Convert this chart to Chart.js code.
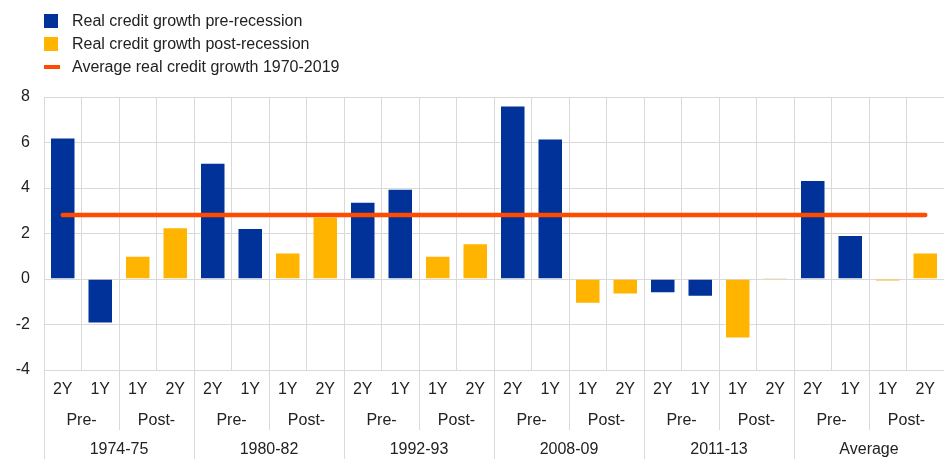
<!DOCTYPE html>
<html>
<head>
<meta charset="utf-8">
<script src="https://cdn.jsdelivr.net/npm/chart.js@4/dist/chart.umd.min.js"></script>
<style>
  body { margin: 0; background: #fff; }
  #wrap { position: relative; width: 944px; height: 469px; }
  #legend { position: absolute; left: 44px; top: 9px; font: 16px 'Liberation Sans', Arial, sans-serif; color: #222; }
  .item { height: 23px; display: flex; align-items: center; }
  .box { width: 14px; height: 14px; margin-right: 14px; }
  .bar { width: 16px; height: 4px; margin-right: 12px; }
</style>
</head>
<body>
<div id="wrap">
  <div id="legend"></div>
  <canvas id="chart" width="944" height="469"></canvas>
</div>
<script>
// chart data
const seriesNames = ['Real credit growth pre-recession', 'Real credit growth post-recession', 'Average real credit growth 1970-2019'];
const horizons = ['2Y', '1Y', '1Y', '2Y', '2Y', '1Y', '1Y', '2Y', '2Y', '1Y', '1Y', '2Y',
                  '2Y', '1Y', '1Y', '2Y', '2Y', '1Y', '1Y', '2Y', '2Y', '1Y', '1Y', '2Y'];
const phases = ['Pre-', 'Post-', 'Pre-', 'Post-', 'Pre-', 'Post-', 'Pre-', 'Post-', 'Pre-', 'Post-', 'Pre-', 'Post-'];
const periods = ['1974-75', '1980-82', '1992-93', '2008-09', '2011-13', 'Average'];
// two values per period: 2Y then 1Y before the recession
const preValues = [6.22, -1.96, 5.11, 2.24, 3.40, 3.97, 7.63, 6.18, -0.63, -0.78, 4.35, 1.93];
// two values per period: 1Y then 2Y after the recession
const postValues = [1.02, 2.28, 1.16, 2.75, 1.02, 1.57, -1.09, -0.68, -2.62, 0.07, -0.10, 1.17];
const averageGrowth = 2.81;
const yTicks = { min: -4, max: 8, step: 2 };

const colors = ['#003299', '#FFB400', '#FF4B00'];
const gridColor = '#d9d9d9';
const textColor = '#222';

// spread the pre/post values over the 24 slots
const preData = [];
const postData = [];
for (let i = 0; i < periods.length; i++) {
  preData.push(preValues[2 * i], preValues[2 * i + 1], null, null);
  postData.push(null, null, postValues[2 * i], postValues[2 * i + 1]);
}
const lineData = horizons.map(() => averageGrowth);

// html legend
const legend = document.getElementById('legend');
seriesNames.forEach((name, i) => {
  const row = document.createElement('div');
  row.className = 'item';
  const mark = document.createElement('span');
  mark.className = i === 2 ? 'bar' : 'box';
  mark.style.background = colors[i];
  row.appendChild(mark);
  row.appendChild(document.createTextNode(name));
  legend.appendChild(row);
});

Chart.defaults.font.family = "'Liberation Sans', Arial, sans-serif";
Chart.defaults.font.size = 16;
Chart.defaults.color = textColor;

const ctx = document.getElementById('chart').getContext('2d');
new Chart(ctx, {
  type: 'bar',
  data: {
    labels: horizons,
    datasets: [
      {
        type: 'line',
        label: seriesNames[2],
        data: lineData,
        borderColor: colors[2],
        borderWidth: 4.5,
        borderCapStyle: 'round',
        pointRadius: 0,
        order: 0,
      },
      {
        label: seriesNames[0],
        data: preData,
        backgroundColor: colors[0],
        borderColor: 'rgba(255,255,255,0.35)',
        borderWidth: 1,
        grouped: false,
        order: 1,
      },
      {
        label: seriesNames[1],
        data: postData,
        backgroundColor: colors[1],
        borderColor: 'rgba(255,255,255,0.35)',
        borderWidth: 1,
        grouped: false,
        order: 1,
      },
    ],
  },
  options: {
    responsive: false,
    animation: false,
    layout: { padding: { top: 97, left: 0, right: 0, bottom: 9 } },
    datasets: { bar: { categoryPercentage: 1, barPercentage: 0.68 } },
    plugins: { legend: { display: false }, tooltip: { enabled: false } },
    scales: {
      y: {
        min: yTicks.min,
        max: yTicks.max,
        ticks: { stepSize: yTicks.step, padding: 14 },
        grid: { color: gridColor, drawTicks: false },
        border: { color: gridColor },
        afterFit: (scale) => { scale.width = 44; },
      },
      x: {
        weight: 0,
        grid: {
          color: gridColor,
          offset: true,
          tickLength: 60,
          tickColor: (c) => (c.index === undefined || c.index % 2 === 0) ? gridColor : 'rgba(0,0,0,0)',
        },
        border: { color: gridColor },
        ticks: { padding: -50, maxRotation: 0, autoSkip: false },
        afterFit: (scale) => { scale.height = 30; },
      },
      x2: {
        type: 'category',
        position: 'bottom',
        weight: 1,
        labels: phases,
        offset: true,
        grid: { display: false, drawTicks: false },
        border: { display: false },
        ticks: { padding: 10.5, maxRotation: 0, autoSkip: false },
        afterFit: (scale) => { scale.height = 30; },
      },
      x3: {
        type: 'category',
        position: 'bottom',
        weight: 2,
        labels: periods,
        offset: true,
        grid: { color: gridColor, offset: true, drawOnChartArea: false, tickLength: 29 },
        border: { display: false },
        ticks: { padding: -19, maxRotation: 0, autoSkip: false },
        afterFit: (scale) => { scale.height = 30; },
      },
    },
  },
});
</script>
</body>
</html>
